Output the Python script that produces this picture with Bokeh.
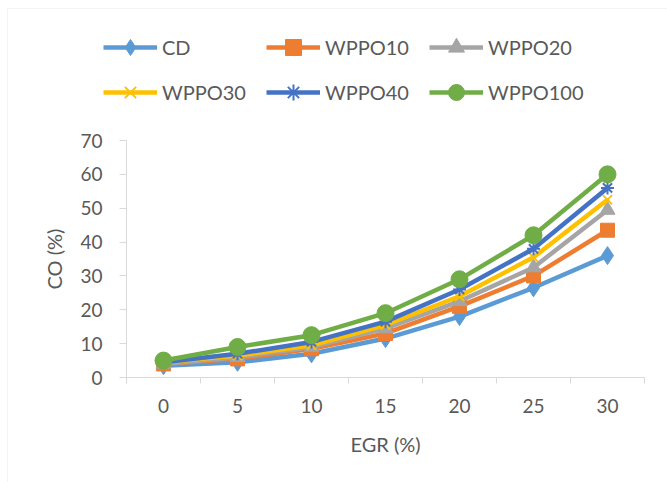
import math
from bokeh.plotting import figure
from bokeh.models import Legend, LegendItem, FixedTicker, BoxAnnotation
from bokeh.embed import file_html
from bokeh.resources import INLINE

egr = [0, 5, 10, 15, 20, 25, 30]
tick_labels = ["0", "5", "10", "15", "20", "25", "30"]
cd = [3.5, 4.5, 7, 11.5, 18, 26.5, 36]
wppo10 = [4, 5.5, 8.5, 13, 21, 30, 43.5]
wppo20 = [4, 6, 9, 14.5, 22.5, 32.5, 49.5]
wppo30 = [4.5, 6.5, 9.5, 15.5, 24, 35.5, 52.5]
wppo40 = [4.5, 7, 10.5, 16.5, 26, 38, 56]
wppo100 = [5, 9, 12.5, 19, 29, 42, 60]

FONT = "Lato"
GREY = "#595959"
AX = "#D9D9D9"

W, H = 667, 482
# axis box in page px: left 126, right 644, top 140 (=70), bottom 377 (=0)
XPX = 518 / 35.0
YPX = 237 / 70.0
x0 = -2.5 - 126 / XPX
x1 = 32.5 + (W - 644) / XPX
y0 = -(H - 377) / YPX
y1 = 70 + 140 / YPX

p = figure(width=W, height=H, output_backend="svg", toolbar_location=None,
           x_range=(x0, x1), y_range=(y0, y1),
           min_border_left=0, min_border_right=0, min_border_top=0, min_border_bottom=0)
p.outline_line_color = None
p.xgrid.visible = False
p.ygrid.visible = False
p.background_fill_color = "white"
p.border_fill_color = "white"

# chart-area border (top and left edges visible)
bx = x0 + 7 / XPX
by = y1 - 8 / YPX
p.add_layout(BoxAnnotation(left=bx, right=x1 + 5, top=by, bottom=y0 - 5,
                           fill_alpha=0, line_color=AX, line_width=1.2))

series = [
    ("CD", cd, "#5B9BD5", dict(marker="diamond", size=18)),
    ("WPPO10", wppo10, "#ED7D31", dict(marker="square", size=14)),
    ("WPPO20", wppo20, "#A5A5A5", dict(marker="triangle", size=15)),
    ("WPPO30", wppo30, "#FFC000", dict(marker="x", size=13, line_width=2)),
    ("WPPO40", wppo40, "#4472C4", dict(marker="asterisk", size=13, line_width=2)),
    ("WPPO100", wppo100, "#70AD47", dict(marker="circle", size=17)),
]

items = []
for name, ys, col, mk in series:
    r1 = p.line(egr, ys, line_color=col, line_width=4.5)
    kw = dict(mk)
    lw = kw.pop("line_width", 1)
    r2 = p.scatter(egr, ys, fill_color=col, line_color=col, line_width=lw, **kw)
    items.append(LegendItem(label=name, renderers=[r1, r2]))

legend = Legend(items=items, location=(103, 370), orientation="horizontal", nrows=2,
                glyph_width=54, glyph_height=40, label_width=99, spacing=5,
                label_standoff=5, padding=0, margin=0,
                label_text_font=FONT, label_text_font_size="20px", label_text_color=GREY,
                border_line_color=None, background_fill_alpha=0)
p.add_layout(legend, "center")

xa = p.xaxis[0]
xa.fixed_location = 0
xa.bounds = (-2.5, 32.5)
xa.ticker = FixedTicker(ticks=egr, minor_ticks=[-2.5 + 5 * i for i in range(8)])
xa.major_label_overrides = {e: t for e, t in zip(egr, tick_labels)}
xa.major_tick_out = 0
xa.major_tick_in = 0
xa.minor_tick_out = 6
xa.minor_tick_in = 0
xa.minor_tick_line_color = AX
xa.axis_line_color = AX
xa.major_label_standoff = 15
xa.major_label_text_font = FONT
xa.major_label_text_font_size = "19px"
xa.major_label_text_color = GREY
xa.axis_label = "EGR (%)"
xa.axis_label_text_font = FONT
xa.axis_label_text_font_size = "20px"
xa.axis_label_text_font_style = "normal"
xa.axis_label_text_color = GREY
xa.axis_label_standoff = 16

ya = p.yaxis[0]
ya.fixed_location = -2.5
ya.bounds = (0, 70)
ya.ticker = FixedTicker(ticks=[0, 10, 20, 30, 40, 50, 60, 70])
ya.major_tick_out = 7
ya.major_tick_in = 0
ya.minor_tick_out = 0
ya.minor_tick_in = 0
ya.major_tick_line_color = AX
ya.axis_line_color = AX
ya.major_label_standoff = 17
ya.major_label_text_font = FONT
ya.major_label_text_font_size = "19px"
ya.major_label_text_color = GREY
ya.axis_label = "CO (%)"
ya.axis_label_text_font = FONT
ya.axis_label_text_font_size = "20px"
ya.axis_label_text_font_style = "normal"
ya.axis_label_text_color = GREY
ya.axis_label_standoff = 11

open("out.html", "w").write(file_html(p, INLINE))
